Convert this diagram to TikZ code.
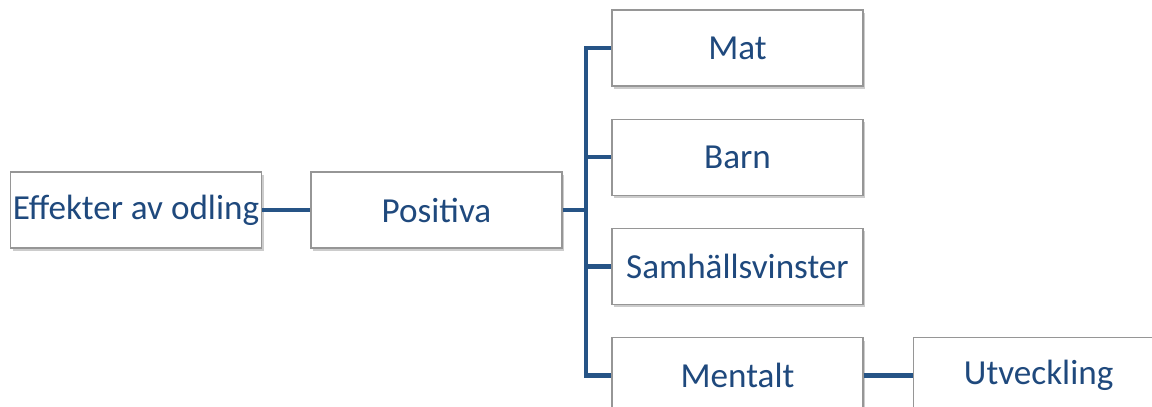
\documentclass[tikz,border=0pt]{standalone}
\usepackage{fontspec}
\setmainfont{Carlito}
\usetikzlibrary{positioning, shadows}
\definecolor{odltext}{RGB}{31, 73, 125}
\definecolor{odlline}{RGB}{38, 84, 134}
\definecolor{odlframe}{RGB}{150, 150, 150}
\tikzset{
  odlbox/.style={rectangle, draw=odlframe, fill=white, line width=0.8pt,
                 minimum width=6.275cm, minimum height=1.9cm, inner sep=1pt,
                 font=\fontsize{25}{29}\selectfont, text=odltext,
                 drop shadow={shadow xshift=0.06cm, shadow yshift=-0.08cm, opacity=0.4}},
  link/.style={line width=3.2pt, color=odlline, line join=miter},
}

\begin{document}
\begin{tikzpicture}
  \useasboundingbox (0,0) rectangle (28.8,-10.15);
  \clip (0,0) rectangle (28.8,-10.15);
  % nodes
  \node[odlbox] (effekter) at (3.4,-5.25) {Effekter av odling};
  \node[odlbox] (positiva) at (10.9125,-5.25) {Positiva};
  \node[odlbox] (mat) at (18.4375,-1.2) {Mat};
  \node[odlbox, below=0.8cm of mat] (barn) {Barn};
  \node[odlbox, below=0.8cm of barn] (samhalle) {Samhällsvinster};
  \node[odlbox, below=0.8cm of samhalle] (mentalt) {Mentalt};
  \node[odlbox, right=1.225cm of mentalt] (utveckling) {Utveckling};
  \coordinate (trunk) at (14.65,-5.25);
  % connectors
  \draw[link] (effekter) -- (positiva);
  \draw[link] (positiva) -- (trunk);
  \draw[link] (mat.west) -| (trunk) |- (mentalt.west);
  \draw[link] (trunk |- barn) -- (barn);
  \draw[link] (trunk |- samhalle) -- (samhalle);
  \draw[link] (mentalt) -- (utveckling);
\end{tikzpicture}
\end{document}
